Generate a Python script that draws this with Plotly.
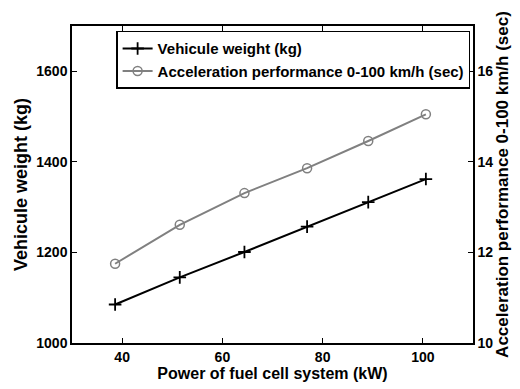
import plotly.graph_objects as go

power_kw = [38.6, 51.5, 64.4, 76.9, 89.1, 100.6]
weight_kg = [1085, 1145, 1201, 1257, 1311, 1362]
accel_sec = [11.75, 12.61, 13.31, 13.86, 14.46, 15.05]

x_ticks = [40, 60, 80, 100]
y1_ticks = [1000, 1200, 1400, 1600]
y2_ticks = [10, 12, 14, 16]

FONT = "Liberation Sans, Arial, sans-serif"

fig = go.Figure()
fig.add_trace(go.Scatter(
    x=power_kw, y=weight_kg, mode="lines+markers",
    name="<b>Vehicule weight (kg)</b>",
    line=dict(color="black", width=2),
    marker=dict(symbol="cross-thin", size=9, line=dict(color="black", width=1.8), color="black"),
))
fig.add_trace(go.Scatter(
    x=power_kw, y=accel_sec, mode="lines+markers", yaxis="y2",
    name="<b>Acceleration performance 0-100 km/h (sec)</b>",
    line=dict(color="#808080", width=2),
    marker=dict(symbol="circle-open", size=9, line=dict(color="#808080", width=1.5), color="#808080"),
))

axis_common = dict(
    showline=True, linecolor="black", linewidth=1.5, ticks="inside", ticklen=5,
    tickcolor="black", showgrid=False, zeroline=False,
    tickfont=dict(family=FONT, size=14, color="black"),
)

fig.update_layout(
    width=520, height=389,
    margin=dict(l=72, r=42, t=26, b=43),
    paper_bgcolor="white", plot_bgcolor="white",
    font=dict(family=FONT, color="black"),
    xaxis=dict(range=[30, 110], tickvals=x_ticks, ticktext=[f"<b>{v}</b>" for v in x_ticks],
               mirror="ticks",
               title=dict(text="<b>Power of fuel cell system (kW)</b>", font=dict(size=16, family=FONT), standoff=1),
               **axis_common),
    yaxis=dict(range=[1000, 1700], tickvals=y1_ticks, ticktext=[f"<b>{v}</b>" for v in y1_ticks],
               title=dict(text="<b>Vehicule weight (kg)</b>", font=dict(size=18, family=FONT), standoff=4),
               **axis_common),
    yaxis2=dict(range=[10, 17], tickvals=y2_ticks, ticktext=[f"<b>{v}</b>" for v in y2_ticks],
                overlaying="y", side="right",
                title=dict(text="<b>Acceleration performance 0-100 km/h (sec)</b>", font=dict(size=17, family=FONT), standoff=3),
                **axis_common),
    legend=dict(x=0.11, y=0.985, xanchor="left", yanchor="top",
                bgcolor="white", bordercolor="black", borderwidth=1.5,
                font=dict(family=FONT, size=15, color="black"),
                tracegroupgap=0, itemwidth=30),
    showlegend=True,
)

fig.write_html("out.html")
